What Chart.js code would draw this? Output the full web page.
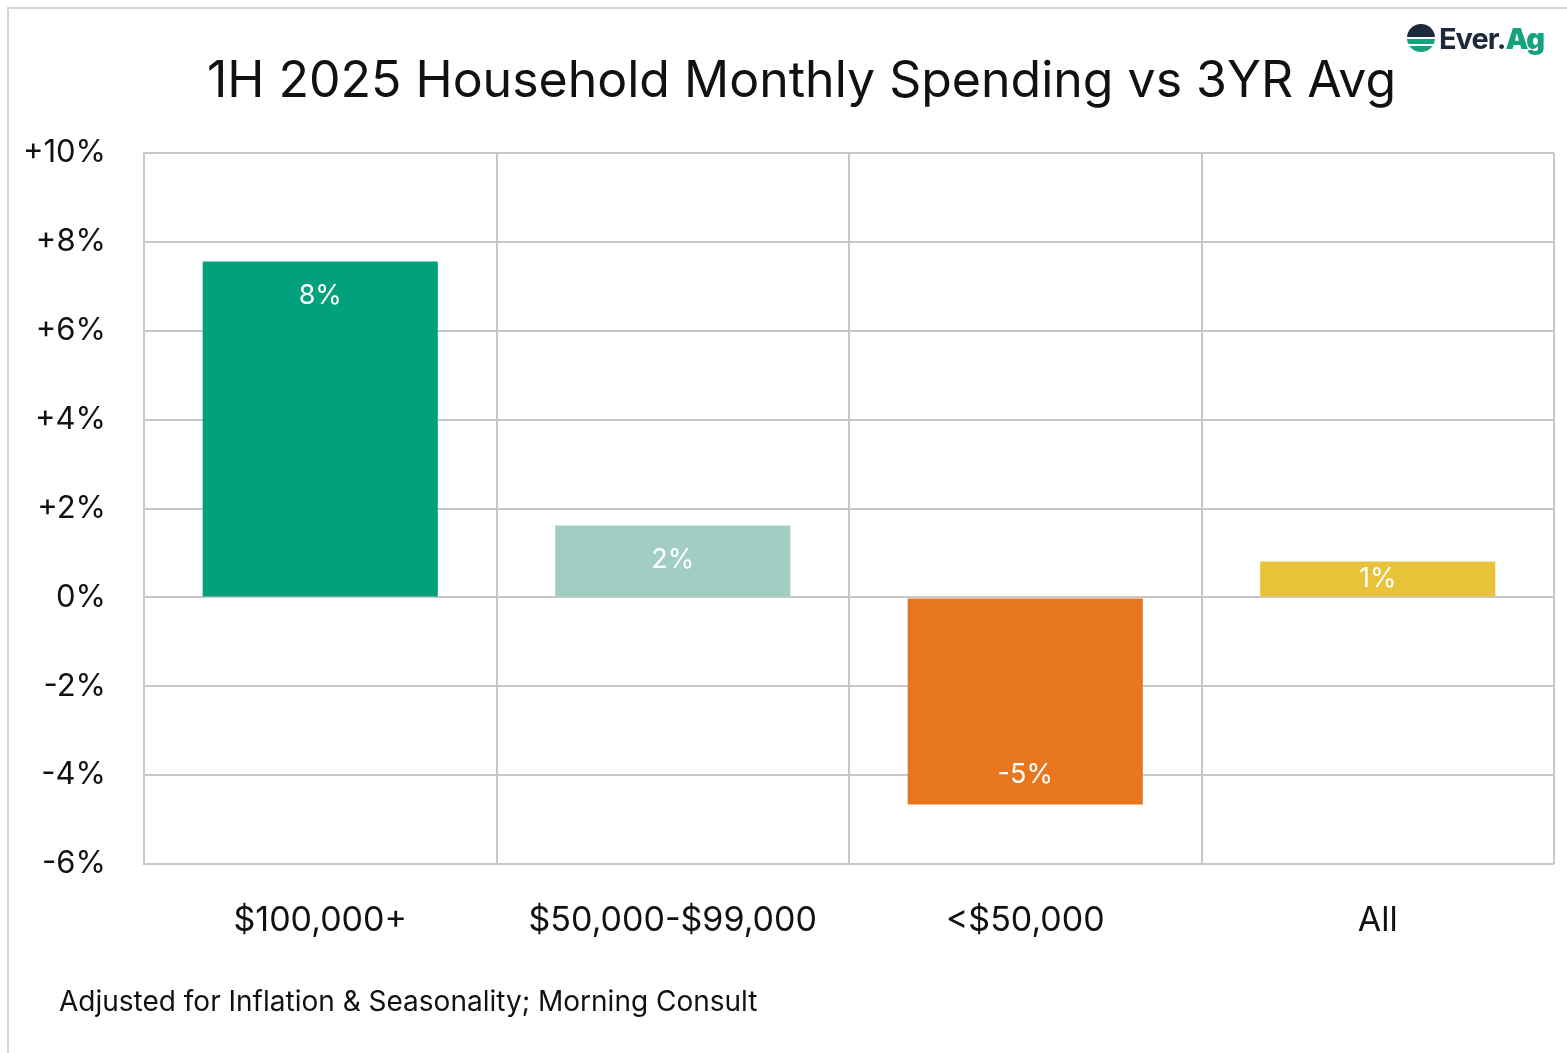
<!DOCTYPE html>
<html>
<head>
<meta charset="utf-8">
<script src="https://cdn.jsdelivr.net/npm/chart.js@4.4.0/dist/chart.umd.min.js"></script>
<style>
  body { margin:0; background:#fff; font-family: Inter, "Noto Sans", sans-serif; }
  #wrap { position:relative; width:1567px; height:1053px; overflow:hidden; }
  #frame { position:absolute; left:7px; top:7px; width:1600px; height:1100px; border:2px solid #d4d4d4; box-sizing:border-box; z-index:5; pointer-events:none; }
  #grafico { position:absolute; left:0; top:0; }
  #titulo { position:absolute; left:0; width:1603px; top:49px; text-align:center; font-size:50px; color:#111; font-weight:400; }
  #fuente { position:absolute; left:59px; top:984px; font-size:28px; color:#111; }
  #logo { position:absolute; left:1407px; top:20px; height:36px; display:flex; align-items:center; }
  #logo .ico { width:28px; height:28px; border-radius:50%; margin-right:4px;
    background:linear-gradient(#1d2a3c 0 46%, #fff 46% 54%, #13a37f 54% 70%, #fff 70% 78%, #13a37f 78%); }
  #logo .txt { font-size:29px; font-weight:700; color:#1d2a3c; letter-spacing:-1px; }
  #logo .txt b { color:#13a37f; }
</style>
</head>
<body>
<div id="wrap">
  <canvas id="grafico" width="1567" height="1053"></canvas>
  <div id="frame"></div>
  <div id="titulo">1H 2025 Household Monthly Spending vs 3YR Avg</div>
  <div id="fuente">Adjusted for Inflation &amp; Seasonality; Morning Consult</div>
  <div id="logo"><span class="ico"></span><span class="txt">Ever.<b>Ag</b></span></div>
</div>
<script>
// datos
var categorias = ['$100,000+', '$50,000-$99,000', '<$50,000', 'All']
var valores = [7.56, 1.62, -4.66, 0.81]
var etiquetas = ['8%', '2%', '-5%', '1%']
var colores = ['#03a07e', '#a2cdc2', '#e8761f', '#e8c33a']
var ticksY = [-6, -4, -2, 0, 2, 4, 6, 8, 10]

var etiquetasBarras = {
  id: 'etiquetasBarras',
  afterDatasetsDraw(chart) {
    var ctx = chart.ctx
    var meta = chart.getDatasetMeta(0)
    ctx.save()
    ctx.fillStyle = '#fff'
    ctx.font = '27px Inter, "Noto Sans", sans-serif'
    ctx.textAlign = 'center'
    ctx.textBaseline = 'middle'
    meta.data.forEach((bar, i) => {
      var alto = Math.abs(bar.base - bar.y)
      var y
      if (alto < 70) y = (bar.y + bar.base) / 2
      else if (valores[i] >= 0) y = bar.y + 34
      else y = bar.y - 30
      ctx.fillText(etiquetas[i], bar.x, y)
    })
    ctx.restore()
  }
}

var graf = document.getElementById('grafico').getContext('2d')
var chart = new Chart(graf, {
  type: 'bar',
  data: {
    labels: categorias,
    datasets: [{
      data: valores,
      backgroundColor: colores,
      categoryPercentage: 1,
      barPercentage: 0.667
    }]
  },
  options: {
    responsive: false,
    animation: false,
    layout: { padding: { top: 153, right: 13, left: 0, bottom: 0 } },
    plugins: { legend: { display: false }, tooltip: { enabled: false } },
    scales: {
      x: {
        grid: { color: '#c8c8c8', lineWidth: 2, drawTicks: false, offset: true },
        border: { display: false },
        ticks: { color: '#111', font: { size: 34, family: 'Inter, "Noto Sans", sans-serif' }, padding: 36 },
        afterFit: function(scale) { scale.height = 189 }
      },
      y: {
        min: -6, max: 10,
        grid: { color: '#c8c8c8', lineWidth: 2, drawTicks: false },
        border: { color: '#c8c8c8', width: 2 },
        afterBuildTicks: function(scale) { scale.ticks = ticksY.map(v => ({ value: v })) },
        ticks: {
          color: '#111', padding: 38,
          font: { size: 31, family: 'Inter, "Noto Sans", sans-serif' },
          callback: function(v) { return (v > 0 ? '+' : '') + v + '%' }
        },
        afterFit: function(scale) { scale.width = 144 }
      }
    }
  },
  plugins: [etiquetasBarras]
})
</script>
</body>
</html>
